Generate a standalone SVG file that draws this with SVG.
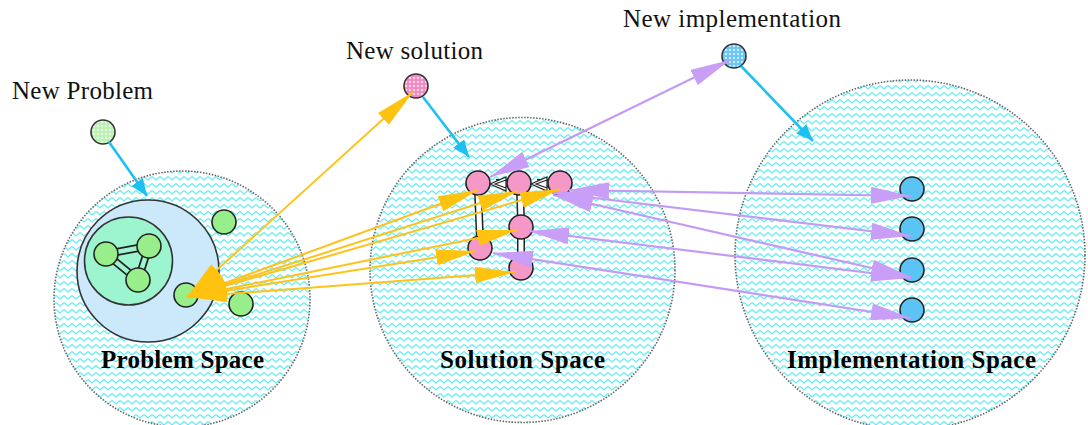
<svg xmlns="http://www.w3.org/2000/svg" width="1088" height="425" viewBox="0 0 1088 425">
<style>
.space{stroke:#666;stroke-width:1.6;stroke-dasharray:1.5 1.5;fill:url(#zig)}
.gn{fill:#98ee8a;stroke:#222;stroke-width:1.6}
.pn{fill:#f598c8;stroke:#222;stroke-width:1.6}
.bn{fill:#5cc3f5;stroke:#222;stroke-width:1.6}
.lbl{font-family:"Liberation Serif","Times New Roman",serif;font-size:25px;fill:#111}
.blbl{font-family:"Liberation Serif","Times New Roman",serif;font-size:25px;font-weight:bold;fill:#000}
.org{stroke:#ffc21a;stroke-width:2;fill:none;marker-start:url(#ao);marker-end:url(#ao)}
.pur{stroke:#c49af2;stroke-width:2.2;fill:none;marker-start:url(#ap);marker-end:url(#ap)}
.cy{stroke:#1ec0f0;stroke-width:2.6;fill:none;marker-end:url(#ac)}
.dbo{stroke:#222;stroke-width:8;fill:none}
.dbiw{stroke:#fff;stroke-width:5;fill:none}
.dbim{stroke:#9cf5cf;stroke-width:4.5;fill:none}
</style>
<defs>
<pattern id="zig" width="8" height="7" patternUnits="userSpaceOnUse">
<rect width="8" height="7" fill="#fff"/>
<path d="M0 1.5 L4 5 L8 1.5" fill="none" stroke="#5eeef4" stroke-width="1.2"/>
</pattern>
<pattern id="hg" width="4" height="4" patternUnits="userSpaceOnUse"><rect width="4" height="4" fill="#bdf2b5"/><circle cx="2" cy="2" r="0.9" fill="#fff"/></pattern>
<pattern id="hp" width="4" height="4" patternUnits="userSpaceOnUse"><rect width="4" height="4" fill="#f28cc2"/><circle cx="2" cy="2" r="0.9" fill="#fff"/></pattern>
<pattern id="hb" width="4" height="4" patternUnits="userSpaceOnUse"><rect width="4" height="4" fill="#6cc6f6"/><circle cx="2" cy="2" r="0.9" fill="#fff"/></pattern>
<marker id="ao" markerUnits="userSpaceOnUse" markerWidth="40" markerHeight="16" refX="40" refY="8" orient="auto-start-reverse"><path d="M0 0 L40 8 L0 16 z" fill="#ffc20e"/></marker>
<marker id="ap" markerUnits="userSpaceOnUse" markerWidth="40" markerHeight="17" refX="40" refY="8.5" orient="auto-start-reverse"><path d="M0 0 L40 8.5 L0 17 z" fill="#c99ef6"/></marker>
<marker id="ac" markerUnits="userSpaceOnUse" markerWidth="17" markerHeight="14" refX="17" refY="7" orient="auto"><path d="M0 0 L17 7 L0 14 z" fill="#1ec0f0"/></marker>
</defs>
<rect width="1088" height="425" fill="#fff"/>

<g id="problem-space">
<circle class="space" cx="182" cy="299" r="128"/>
<circle cx="148" cy="271" r="71" fill="#cce9fb" stroke="#333" stroke-width="1.6"/>
<circle cx="128.5" cy="261" r="44" fill="#9cf5cf" stroke="#333" stroke-width="1.6"/>
<text class="blbl" x="101" y="368" textLength="163">Problem Space</text>
</g>
<g id="solution-space">
<circle class="space" cx="522.5" cy="270" r="152.5"/>
<text class="blbl" x="440" y="368" textLength="165">Solution Space</text>
</g>
<g id="implementation-space">
<circle class="space" cx="910" cy="255" r="175"/>
<text class="blbl" x="787" y="368" textLength="249">Implementation Space</text>
</g>

<g id="problem-links">
<path class="dbo" d="M106 254 L149 246 M106 254 L138 280 M149 246 L138 280"/>
<path class="dbim" d="M106 254 L149 246 M106 254 L138 280 M149 246 L138 280"/>
</g>
<g id="solution-links">
<path class="dbo" d="M478 190 L480 240 M520 190 L521 220 M521 232 L521 262"/>
<path class="dbiw" d="M478 190 L480 240 M520 190 L521 220 M521 232 L521 262"/>
<path class="dbo" d="M496 183 L508 183 M537 183 L549 183" stroke-width="7"/>
<path class="dbiw" d="M496 183 L508 183 M537 183 L549 183" stroke-width="4"/>
<path d="M490 184 L506 177 L506 191 z M495 184 L506 180 L506 188 z" fill="#fff" stroke="#222" stroke-width="1.2"/>
<path d="M531 184 L547 177 L547 191 z M536 184 L547 180 L547 188 z" fill="#fff" stroke="#222" stroke-width="1.2"/>
</g>

<g id="n-p1"><circle class="gn" cx="106" cy="254" r="12"/></g>
<g id="n-p2"><circle class="gn" cx="149" cy="246" r="12"/></g>
<g id="n-p3"><circle class="gn" cx="138" cy="280" r="12"/></g>
<g id="n-p4"><circle class="gn" cx="224" cy="222" r="12"/></g>
<g id="n-p5"><circle class="gn" cx="186" cy="295" r="12"/></g>
<g id="n-p6"><circle class="gn" cx="241" cy="304" r="12"/></g>

<g id="n-s1"><circle class="pn" cx="478" cy="183" r="12"/></g>
<g id="n-s2"><circle class="pn" cx="519" cy="183" r="12"/></g>
<g id="n-s3"><circle class="pn" cx="560" cy="183" r="12"/></g>
<g id="n-s4"><circle class="pn" cx="521" cy="227" r="12"/></g>
<g id="n-s5"><circle class="pn" cx="480" cy="248" r="12"/></g>
<g id="n-s6"><circle class="pn" cx="521" cy="268" r="12"/></g>

<g id="n-i1"><circle class="bn" cx="912" cy="189" r="12"/></g>
<g id="n-i2"><circle class="bn" cx="912" cy="229" r="12"/></g>
<g id="n-i3"><circle class="bn" cx="912" cy="270" r="12"/></g>
<g id="n-i4"><circle class="bn" cx="912" cy="310" r="12"/></g>

<g id="new-problem">
<circle cx="103" cy="132" r="12" fill="url(#hg)" stroke="#333" stroke-width="1.6"/>
<text class="lbl" x="12" y="99" textLength="141">New Problem</text>
</g>
<g id="new-solution">
<circle cx="416" cy="86" r="12" fill="url(#hp)" stroke="#333" stroke-width="1.6"/>
<text class="lbl" x="346" y="59" textLength="137">New solution</text>
</g>
<g id="new-implementation">
<circle cx="734" cy="56" r="12" fill="url(#hb)" stroke="#333" stroke-width="1.6"/>
<text class="lbl" x="623" y="27" textLength="218">New implementation</text>
</g>

<g id="connectors">
<path class="cy" d="M109 142 L147 196"/>
<path class="cy" d="M423 97 L469 157"/>
<path class="cy" d="M741 66 L813 141"/>

<path class="pur" d="M490 177 L730 60"/>
<path class="pur" d="M569 190 L911 196"/>
<path class="pur" d="M553 193 L911 236"/>
<path class="pur" d="M553 195 L911 277"/>
<path class="pur" d="M529 231 L911 278"/>
<path class="pur" d="M493 253 L911 318"/>

<path class="org" d="M187 297 L413 92"/>
<path class="org" d="M187 297 L478 190"/>
<path class="org" d="M187 297 L518 191"/>
<path class="org" d="M187 297 L560 189"/>
<path class="org" d="M187 297 L517 230"/>
<path class="org" d="M187 297 L476 251"/>
<path class="org" d="M187 297 L515 272"/>
</g>
</svg>
